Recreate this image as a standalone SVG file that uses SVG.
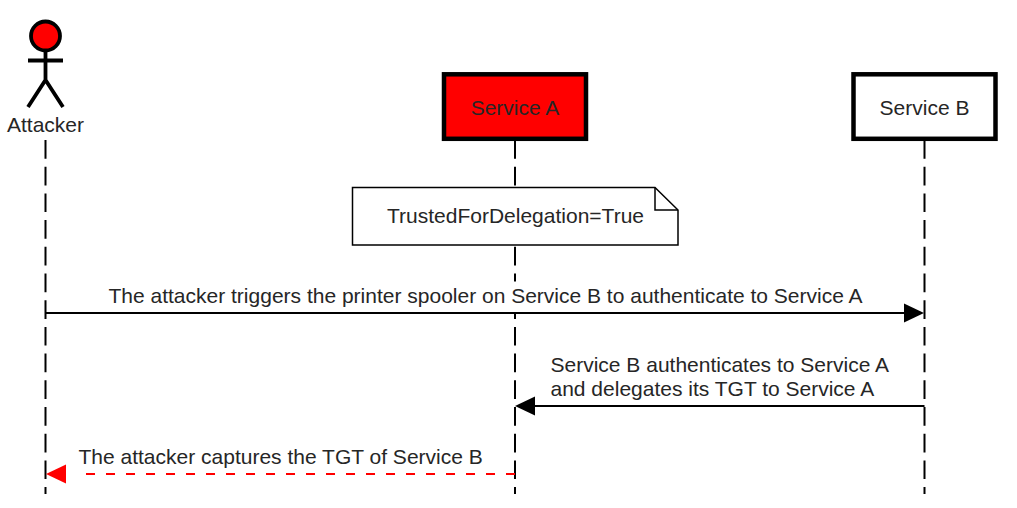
<svg xmlns="http://www.w3.org/2000/svg" width="1017" height="508" viewBox="0 0 1017 508">
<style>
text{font-family:"Liberation Sans",Arial,sans-serif;font-size:21px;fill:#262626}
.m{text-anchor:middle}
.life{fill:none;stroke:#000;stroke-width:2;stroke-dasharray:18.7 8}
.box{stroke:#000;stroke-width:4.5}
.msg{fill:none;stroke:#000;stroke-width:2}
</style>
<rect width="1017" height="508" fill="#fff"/>
<g id="lifelines">
<path class="life" d="M45.5 140V494"/>
<path class="life" d="M515 140V494"/>
<path class="life" d="M924.5 140V494"/>
</g>
<g id="attacker">
<circle cx="45.5" cy="36" r="14.5" fill="#f00" stroke="#000" stroke-width="3.8"/>
<path d="M45.5 50V80M28 60.5H63M28 107L45.500 80L63 107" fill="none" stroke="#000" stroke-width="3.800"/>
<text class="m" x="45.5" y="132">Attacker</text>
</g>
<g id="service-a">
<rect class="box" x="444" y="74.300" width="142" height="64.500" fill="#f00"/>
<text class="m" x="515" y="115">Service A</text>
</g>
<g id="service-b">
<rect class="box" x="853.500" y="74.300" width="142" height="64.500" fill="#fff"/>
<text class="m" x="924.500" y="115">Service B</text>
</g>
<g id="note">
<path d="M352.500 187.500H655L678 210V245H352.500Z" fill="#fff" stroke="#000" stroke-width="1.500"/>
<path d="M655 187.500V210H678" fill="none" stroke="#000" stroke-width="1.500"/>
<text class="m" x="515.500" y="222.500">TrustedForDelegation=True</text>
</g>
<g id="connectors">
<path class="msg" d="M45.500 313H905"/>
<path d="M904 303.500L924 313L904 322.500Z" fill="#000"/>
<path class="msg" d="M924.500 406H535"/>
<path d="M535 396.500L515 406L535 415.500Z" fill="#000"/>
<path d="M515 474H75" fill="none" stroke="#f00" stroke-width="2" stroke-dasharray="9 11"/>
<path d="M66 464.500L46 474L66 483.500Z" fill="#f00"/>
</g>
<g id="labels">
<rect x="490" y="281.500" width="50" height="30.500" fill="#fff"/>
<text class="m" x="485.500" y="303">The attacker triggers the printer spooler on Service B to authenticate to Service A</text>
<text x="550.500" y="372">Service B authenticates to Service A</text>
<text x="550.500" y="396">and delegates its TGT to Service A</text>
<text x="78.500" y="464">The attacker captures the TGT of Service B</text>
</g>
</svg>
